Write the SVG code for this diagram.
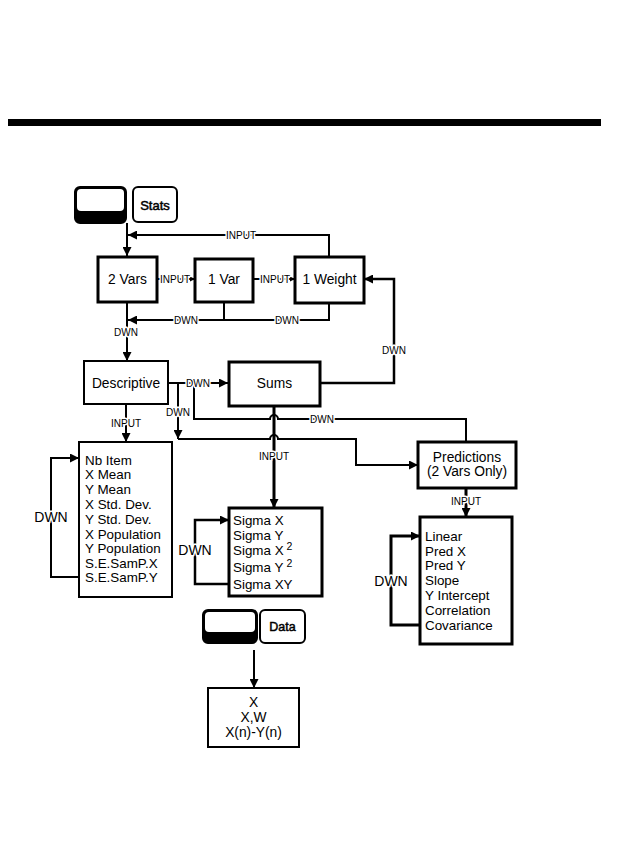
<svg xmlns="http://www.w3.org/2000/svg" width="633" height="865" viewBox="0 0 633 865">
<style>
text{font-family:"Liberation Sans",Arial,sans-serif;fill:#000}
.box{fill:#fff;stroke:#000;stroke-width:2}
.thick{stroke-width:3}
.node{font-size:13.8px;text-anchor:middle}
.list{font-size:13.4px}
.lbl{font-size:10px;text-anchor:middle;stroke:#fff;stroke-width:3;paint-order:stroke;stroke-linejoin:round}
.big{font-size:14px}
.ln{fill:none;stroke:#000;stroke-width:2}
.key{fill:#fff;stroke:#000;stroke-width:2}
.kt{font-size:13px;text-anchor:middle;stroke:#000;stroke-width:0.5}
</style>
<defs>
<marker id="a" viewBox="0 0 10 10" refX="10" refY="5" markerWidth="12" markerHeight="9" markerUnits="userSpaceOnUse" orient="auto"><path d="M0,0L10,5L0,10z"/></marker>
<marker id="s" viewBox="0 0 10 10" refX="10" refY="5" markerWidth="5" markerHeight="5" markerUnits="userSpaceOnUse" orient="auto"><path d="M0,0L10,5L0,10z"/></marker>
</defs>
<rect x="8" y="119" width="593" height="7" fill="#000"/>

<g id="key-shift-1"><rect x="75" y="187" width="51" height="36" rx="5" fill="#000" stroke="#000" stroke-width="2"/><rect x="77" y="189" width="47" height="22" rx="4" fill="#fff"/></g>
<g id="key-stats"><rect class="key" x="133" y="187" width="44" height="35" rx="5"/><text class="kt" x="155" y="209.5">Stats</text></g>

<g id="n-2vars"><rect class="box thick" x="98" y="257" width="59" height="45"/><text class="node" x="127.5" y="284">2 Vars</text></g>
<g id="n-1var"><rect class="box thick" x="195" y="259" width="58" height="43"/><text class="node" x="224" y="284">1 Var</text></g>
<g id="n-1weight"><rect class="box thick" x="295" y="257" width="69" height="46"/><text class="node" x="329.5" y="284">1 Weight</text></g>
<g id="n-descriptive"><rect class="box" x="84" y="361" width="84" height="43"/><text class="node" x="126" y="387.5">Descriptive</text></g>
<g id="n-sums"><rect class="box thick" x="229" y="362" width="91" height="44"/><text class="node" x="274.5" y="388">Sums</text></g>
<g id="n-predictions"><rect class="box thick" x="418" y="442" width="98" height="46"/><text class="node" x="467" y="461.5">Predictions</text><text class="node" x="467" y="475.5">(2 Vars Only)</text></g>

<g id="n-desc-list"><rect class="box" x="79" y="442" width="93" height="155"/>
<text class="list" x="85" y="464.5">Nb Item</text>
<text class="list" x="85" y="479">X Mean</text>
<text class="list" x="85" y="494">Y Mean</text>
<text class="list" x="85" y="508.5">X Std. Dev.</text>
<text class="list" x="85" y="523.5">Y Std. Dev.</text>
<text class="list" x="85" y="538.5">X Population</text>
<text class="list" x="85" y="553">Y Population</text>
<text class="list" x="85" y="567.5">S.E.SamP.X</text>
<text class="list" x="85" y="582">S.E.SamP.Y</text></g>

<g id="n-sums-list"><rect class="box thick" x="229" y="508" width="93" height="88"/>
<text class="list" x="233" y="524.5">Sigma X</text>
<text class="list" x="233" y="539.5">Sigma Y</text>
<text class="list" x="233" y="554.5">Sigma X<tspan font-size="10.5" dx="3" dy="-5">2</tspan></text>
<text class="list" x="233" y="571.5">Sigma Y<tspan font-size="10.5" dx="3" dy="-5">2</tspan></text>
<text class="list" x="233" y="588.5">Sigma XY</text></g>

<g id="n-pred-list"><rect class="box thick" x="420" y="517" width="92" height="127"/>
<text class="list" x="425" y="540.5">Linear</text>
<text class="list" x="425" y="555.5">Pred X</text>
<text class="list" x="425" y="569.5">Pred Y</text>
<text class="list" x="425" y="584.5">Slope</text>
<text class="list" x="425" y="599.5">Y Intercept</text>
<text class="list" x="425" y="614.5">Correlation</text>
<text class="list" x="425" y="629.5">Covariance</text></g>

<g id="key-shift-2"><rect x="203" y="610" width="54" height="33" rx="5" fill="#000" stroke="#000" stroke-width="2"/><rect x="205" y="612" width="50" height="20" rx="4" fill="#fff"/></g>
<g id="key-data"><rect class="key" x="260" y="610" width="45" height="33" rx="5"/><text class="kt" x="282.5" y="631" style="font-size:12.5px">Data</text></g>

<g id="n-data"><rect class="box" x="208" y="688" width="91" height="59"/>
<text class="node" x="253.5" y="706.5">X</text>
<text class="node" x="253.5" y="721.5">X,W</text>
<text class="node" x="253.5" y="736.5">X(n)-Y(n)</text></g>

<g id="connectors">
<path class="ln" d="M127,223V256" marker-end="url(#a)"/>
<path class="ln" d="M329,257V235H128" marker-end="url(#a)"/>
<path class="ln" d="M157,279H195" marker-end="url(#s)"/>
<path class="ln" d="M253,279H295" marker-end="url(#s)"/>
<path class="ln" d="M329,303V320H128" marker-end="url(#a)"/>
<path class="ln" d="M224,302V320"/>
<path class="ln" d="M127,302V361" marker-end="url(#a)"/>
<path class="ln" d="M168,383H228" marker-end="url(#a)"/>
<path class="ln" d="M178,383V439" marker-end="url(#a)"/>
<path class="ln" d="M194,383V419H270a4,4 0 0 1 8,0H466V442"/>
<path class="ln" d="M178,439H270a4,4 0 0 1 8,0H356V465H418" marker-end="url(#a)"/>
<path class="ln" d="M320,383H394V279H364" style="stroke-width:2.5" marker-end="url(#a)"/>
<path class="ln" d="M274,406V508" style="stroke-width:3" marker-end="url(#a)"/>
<path class="ln" d="M126,404V442" marker-end="url(#a)"/>
<path class="ln" d="M466,488V517" style="stroke-width:3" marker-end="url(#a)"/>
<path class="ln" d="M79,577H51V458H79" marker-end="url(#a)"/>
<path class="ln" d="M229,584H195V520H229" style="stroke-width:2.5" marker-end="url(#a)"/>
<path class="ln" d="M420,625H391V536H420" style="stroke-width:3" marker-end="url(#a)"/>
<path class="ln" d="M254,650V688" marker-end="url(#a)"/>

<text class="lbl" x="241" y="238.5">INPUT</text>
<text class="lbl" x="175" y="282.5">INPUT</text>
<text class="lbl" x="275" y="282.5">INPUT</text>
<text class="lbl" x="186" y="323.5">DWN</text>
<text class="lbl" x="287" y="323.5">DWN</text>
<text class="lbl" x="126" y="335.5">DWN</text>
<text class="lbl" x="198" y="386.5">DWN</text>
<text class="lbl" x="178" y="415.5">DWN</text>
<text class="lbl" x="322" y="422.5">DWN</text>
<text class="lbl" x="394" y="353.5">DWN</text>
<text class="lbl" x="274" y="459.5">INPUT</text>
<text class="lbl" x="126" y="426.5">INPUT</text>
<text class="lbl" x="466" y="504.5">INPUT</text>
<text class="lbl big" x="51" y="522">DWN</text>
<text class="lbl big" x="195" y="555">DWN</text>
<text class="lbl big" x="391" y="586">DWN</text>
</g>
</svg>
